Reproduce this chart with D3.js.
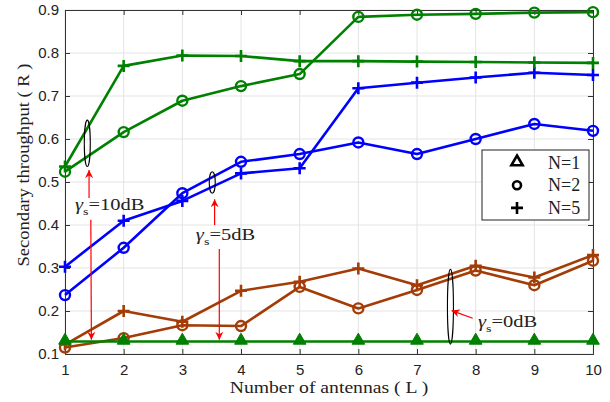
<!DOCTYPE html>
<html>
<head>
<meta charset="utf-8">
<script src="https://cdn.jsdelivr.net/npm/d3@7"></script>
<style>
  body { margin: 0; background: #fff; }
  .tick text { font-family: "Liberation Sans", Arial, sans-serif; font-size: 15px; fill: #222; }
  .lbl { font-family: "Liberation Serif", "Times New Roman", serif; fill: #222; }
</style>
</head>
<body>
<div id="chart"></div>
<script>
// x values: number of antennas
var antennas = [1, 2, 3, 4, 5, 6, 7, 8, 9, 10];
var xTicks = [1, 2, 3, 4, 5, 6, 7, 8, 9, 10];
var yTicks = [0.1, 0.2, 0.3, 0.4, 0.5, 0.6, 0.7, 0.8, 0.9];

// gamma_s = 10dB (green)
var snr10N2 = [0.524, 0.616, 0.689, 0.723, 0.751, 0.884, 0.889, 0.891, 0.894, 0.895];
var snr10N5 = [0.536, 0.770, 0.794, 0.793, 0.781, 0.781, 0.780, 0.779, 0.778, 0.777];
// gamma_s = 5dB (blue)
var snr5N2 = [0.237, 0.347, 0.474, 0.547, 0.565, 0.592, 0.565, 0.600, 0.635, 0.619];
var snr5N5 = [0.303, 0.410, 0.456, 0.520, 0.532, 0.718, 0.731, 0.743, 0.754, 0.749];
// gamma_s = 0dB (brown)
var snr0N2 = [0.115, 0.137, 0.167, 0.165, 0.256, 0.206, 0.249, 0.294, 0.260, 0.317];
var snr0N5 = [0.122, 0.200, 0.175, 0.247, 0.268, 0.299, 0.260, 0.305, 0.278, 0.330];
// N = 1 (all gamma_s overlap)
var n1 = [0.129, 0.129, 0.129, 0.129, 0.129, 0.129, 0.129, 0.129, 0.129, 0.129];

var legendItems = ["N=1", "N=2", "N=5"];

var margin = { top: 10, right: 17, bottom: 48, left: 65 };
var totalWidth = 610, totalHeight = 402;
var width = totalWidth - margin.left - margin.right;
var height = totalHeight - margin.top - margin.bottom;

var green = "#008000", blue = "#0000ff", brown = "#a33c06";

var svg = d3.select("#chart").append("svg")
    .attr("width", totalWidth)
    .attr("height", totalHeight)
    .append("g")
    .attr("transform", "translate(" + margin.left + "," + margin.top + ")");

var x = d3.scaleLinear().domain([1, 10]).range([0, width]);
var y = d3.scaleLinear().domain([0.1, 0.9]).range([height, 0]);

// grid
svg.append("g").selectAll("line").data(xTicks).enter().append("line")
    .attr("x1", function(d) { return x(d); }).attr("x2", function(d) { return x(d); })
    .attr("y1", 0).attr("y2", height)
    .attr("stroke", "#e3e3e3").attr("stroke-width", 1);
svg.append("g").selectAll("line").data(yTicks).enter().append("line")
    .attr("y1", function(d) { return y(d); }).attr("y2", function(d) { return y(d); })
    .attr("x1", 0).attr("x2", width)
    .attr("stroke", "#e3e3e3").attr("stroke-width", 1);

// axes (ticks inward, MATLAB style)
var xAxis = d3.axisBottom(x).tickValues(xTicks).tickSize(-5).tickPadding(10).tickFormat(d3.format("d"));
var yAxis = d3.axisLeft(y).tickValues(yTicks).tickSize(-5).tickPadding(6).tickFormat(d3.format(".1f"));

svg.append("g").attr("transform", "translate(0," + height + ")").call(xAxis);
svg.append("g").call(yAxis);
svg.append("g").call(d3.axisTop(x).tickValues(xTicks).tickSize(-5).tickFormat(""));
svg.append("g").attr("transform", "translate(" + width + ",0)")
    .call(d3.axisRight(y).tickValues(yTicks).tickSize(-5).tickFormat(""));
svg.selectAll(".domain, .tick line").attr("stroke", "#333");

// axis labels (the original figure is stretched sideways, hence scale)
svg.append("text").attr("class", "lbl")
    .attr("transform", "translate(" + (width / 2) + "," + (height + 39) + ") scale(1.23,1)")
    .attr("text-anchor", "middle").attr("font-size", "16px")
    .text("Number of antennas ( L )");
svg.append("text").attr("class", "lbl")
    .attr("transform", "translate(-36,155) rotate(-90) scale(1.16,1)")
    .attr("text-anchor", "middle").attr("font-size", "16px")
    .text("Secondary throughput ( R )");

var line = d3.line()
    .x(function(d, i) { return x(antennas[i]); })
    .y(function(d) { return y(d); });

var series = [
    { values: snr0N5, color: brown, marker: "plus" },
    { values: snr0N2, color: brown, marker: "circle" },
    { values: snr5N5, color: blue, marker: "plus" },
    { values: snr5N2, color: blue, marker: "circle" },
    { values: snr10N5, color: green, marker: "plus" },
    { values: snr10N2, color: green, marker: "circle" },
    { values: n1, color: green, marker: "triangle" }
];

function drawMarker(g, type, cx, cy, color) {
    if (type === "plus") {
        g.append("path")
            .attr("d", "M" + (cx - 6) + "," + cy + "H" + (cx + 6) + "M" + cx + "," + (cy - 6) + "V" + (cy + 6))
            .attr("stroke", color).attr("stroke-width", 2.6).attr("fill", "none");
    } else if (type === "circle") {
        g.append("circle").attr("cx", cx).attr("cy", cy).attr("r", 5)
            .attr("stroke", color).attr("stroke-width", 2.4).attr("fill", "none");
    } else {
        g.append("path")
            .attr("d", d3.symbol().type(d3.symbolTriangle).size(70)())
            .attr("transform", "translate(" + cx + "," + (cy - 1) + ")")
            .attr("fill", color).attr("stroke", color).attr("stroke-width", 1);
    }
}

series.forEach(function(s) {
    var g = svg.append("g");
    g.append("path")
        .attr("d", line(s.values))
        .attr("fill", "none")
        .attr("stroke", s.color)
        .attr("stroke-width", 2.6)
        .attr("stroke-linejoin", "round");
    s.values.forEach(function(v, i) {
        drawMarker(g, s.marker, x(antennas[i]), y(v), s.color);
    });
});

// annotations: ellipses, arrows, labels
var defs = svg.append("defs");
defs.append("marker").attr("id", "arr")
    .attr("viewBox", "0 0 10 10").attr("refX", 10).attr("refY", 5)
    .attr("markerWidth", 8).attr("markerHeight", 8)
    .attr("markerUnits", "userSpaceOnUse")
    .attr("orient", "auto")
    .append("path").attr("d", "M0,0 L10,5 L0,10 L3,5 Z").attr("fill", "red");

function ellipse(lx, v0, v1) {
    var cy = (y(v0) + y(v1)) / 2;
    svg.append("ellipse")
        .attr("cx", x(lx)).attr("cy", cy)
        .attr("rx", 3).attr("ry", Math.abs(y(v0) - y(v1)) / 2)
        .attr("fill", "none").attr("stroke", "#000").attr("stroke-width", 1.1);
}
function arrow(x1, v1, x2, v2) {
    svg.append("line")
        .attr("x1", x(x1)).attr("y1", y(v1))
        .attr("x2", x(x2)).attr("y2", y(v2))
        .attr("stroke", "red").attr("stroke-width", 1.2)
        .attr("marker-end", "url(#arr)");
}
function gammaLabel(lx, v, txt) {
    var t = svg.append("text").attr("class", "lbl")
        .attr("transform", "translate(" + x(lx) + "," + y(v) + ") scale(1.28,1)")
        .attr("font-size", "16px");
    t.append("tspan").attr("font-style", "italic").text("\u03b3");
    t.append("tspan").attr("dy", 5).attr("font-size", "11px").text("s");
    t.append("tspan").attr("dy", -5).text(txt);
}

// 10dB
ellipse(1.38, 0.644, 0.536);
arrow(1.41, 0.463, 1.41, 0.528);
arrow(1.44, 0.412, 1.45, 0.133);
gammaLabel(1.17, 0.435, "=10dB");
// 5dB
ellipse(3.51, 0.524, 0.474);
arrow(3.55, 0.400, 3.55, 0.460);
arrow(3.63, 0.344, 3.63, 0.133);
gammaLabel(3.23, 0.365, "=5dB");
// 0dB
ellipse(7.57, 0.297, 0.123);
arrow(7.95, 0.183, 7.59, 0.201);
gammaLabel(8.04, 0.163, "=0dB");

// legend
var lg = svg.append("g").attr("transform", "translate(" + (482 - margin.left) + "," + (150 - margin.top) + ")");
lg.append("rect").attr("width", 107).attr("height", 70)
    .attr("fill", "#fff").attr("stroke", "#222").attr("stroke-width", 1);
var legendMarkers = ["triangle", "circle", "plus"];
legendItems.forEach(function(name, i) {
    var cy = 12.5 + i * 22.7;
    if (legendMarkers[i] === "triangle") {
        lg.append("path")
            .attr("d", d3.symbol().type(d3.symbolTriangle).size(55)())
            .attr("transform", "translate(35," + (cy - 0.5) + ")")
            .attr("fill", "none").attr("stroke", "#000").attr("stroke-width", 2.6);
    } else if (legendMarkers[i] === "circle") {
        lg.append("circle").attr("cx", 35).attr("cy", cy).attr("r", 4)
            .attr("fill", "none").attr("stroke", "#000").attr("stroke-width", 2.6);
    } else {
        lg.append("path")
            .attr("d", "M29," + cy + "H41M35," + (cy - 6) + "V" + (cy + 6))
            .attr("stroke", "#000").attr("stroke-width", 2.6);
    }
    lg.append("text").attr("class", "lbl")
        .attr("x", 66).attr("y", cy + 6).attr("font-size", "18px")
        .text(name);
});
</script>
</body>
</html>
